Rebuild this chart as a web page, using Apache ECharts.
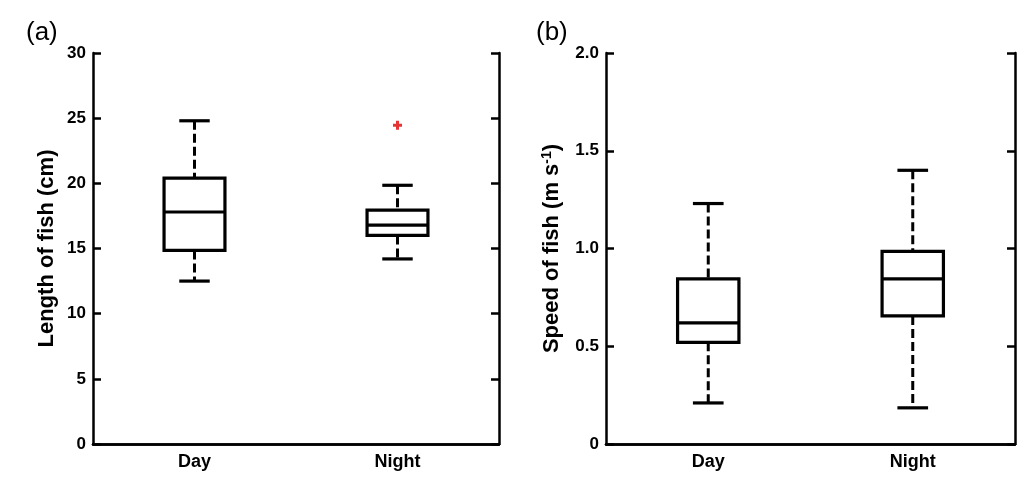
<!DOCTYPE html>
<html>
<head>
<meta charset="utf-8">
<script src="https://cdn.jsdelivr.net/npm/echarts@6/dist/echarts.min.js"></script>
<style>
html,body{margin:0;padding:0;background:#fff;}
#chart{width:1031px;height:478px;}
</style>
</head>
<body>
<div id="chart"></div>
<script>
// ---- data ----
var categories = ['Day', 'Night'];
// [min whisker, Q1, median, Q3, max whisker]
var lengthDay = [12.5, 14.85, 17.8, 20.4, 24.8];
var lengthNight = [14.2, 16.0, 16.8, 17.95, 19.85];
var lengthOutliers = [['Night', 24.45]];
var speedDay = [0.21, 0.52, 0.62, 0.845, 1.23];
var speedNight = [0.185, 0.655, 0.845, 0.985, 1.40];
var lengthTicks = [0, 5, 10, 15, 20, 25, 30];
var speedTicks = [0, 0.5, 1.0, 1.5, 2.0];
var panelLabels = ['(a)', '(b)'];

var FONT = '"Liberation Sans", Arial, sans-serif';
var AXW = 2.5;

function boxRender(params, api) {
  var x = api.value(0);
  var lo = api.coord([x, api.value(1)]);
  var q1 = api.coord([x, api.value(2)]);
  var md = api.coord([x, api.value(3)]);
  var q3 = api.coord([x, api.value(4)]);
  var hi = api.coord([x, api.value(5)]);
  var band = api.size([1, 0])[0];
  var bw = band * 0.3, cw = band * 0.15;
  var cx = q1[0];
  var solid = {stroke: '#000', lineWidth: 3.2, fill: null};
  var dashed = {stroke: '#000', lineWidth: 3, lineDash: [9, 4], fill: null};
  return {
    type: 'group',
    children: [
      {type: 'line', shape: {x1: cx, y1: hi[1], x2: cx, y2: q3[1]}, style: dashed},
      {type: 'line', shape: {x1: cx, y1: q1[1], x2: cx, y2: lo[1]}, style: dashed},
      {type: 'line', shape: {x1: cx - cw / 2, y1: hi[1], x2: cx + cw / 2, y2: hi[1]}, style: solid},
      {type: 'line', shape: {x1: cx - cw / 2, y1: lo[1], x2: cx + cw / 2, y2: lo[1]}, style: solid},
      {type: 'rect', shape: {x: cx - bw / 2, y: q3[1], width: bw, height: q1[1] - q3[1]}, style: {stroke: '#000', lineWidth: 3.2, fill: '#fff'}},
      {type: 'line', shape: {x1: cx - bw / 2, y1: md[1], x2: cx + bw / 2, y2: md[1]}, style: solid}
    ]
  };
}

function toRows(list) {
  return list.map(function (s, i) { return [i].concat(s); });
}

function xAxes(gi) {
  var base = {
    type: 'category', data: categories, gridIndex: gi,
    axisLine: {lineStyle: {color: '#000', width: AXW}},
    axisTick: {inside: true, alignWithLabel: true, length: 8, lineStyle: {color: '#000', width: AXW}},
    splitLine: {show: false}
  };
  var bottom = Object.assign({}, base, {
    position: 'bottom',
    axisLabel: {color: '#000', fontFamily: FONT, fontWeight: 'bold', fontSize: 18, margin: 9}
  });
  var top = Object.assign({}, base, {position: 'top', axisLabel: {show: false}});
  return [bottom, top];
}

function yAxes(gi, max, interval, name, nameGap, fmt) {
  var base = {
    type: 'value', gridIndex: gi, min: 0, max: max, interval: interval,
    axisLine: {show: true, lineStyle: {color: '#000', width: AXW}},
    axisTick: {show: true, inside: true, length: 8, lineStyle: {color: '#000', width: AXW}},
    splitLine: {show: false}
  };
  var left = Object.assign({}, base, {
    position: 'left',
    name: name, nameLocation: 'middle', nameGap: nameGap, nameRotate: 90,
    nameTextStyle: {
      color: '#000', fontFamily: FONT, fontWeight: 'bold', fontSize: 22,
      rich: {
        sup: {fontFamily: FONT, fontWeight: 'bold', fontSize: 14, verticalAlign: 'top', color: '#000', padding: [0, 0, 9, 0]},
        n: {fontFamily: FONT, fontWeight: 'bold', fontSize: 22, color: '#000'}
      }
    },
    axisLabel: {color: '#000', fontFamily: FONT, fontWeight: 'bold', fontSize: 17, margin: 7, formatter: fmt}
  });
  var right = Object.assign({}, base, {position: 'right', axisLabel: {show: false}});
  return [left, right];
}

var xa = xAxes(0).concat(xAxes(1));
var ya = yAxes(0, lengthTicks[lengthTicks.length - 1], lengthTicks[1] - lengthTicks[0], 'Length of fish (cm)', 35,
  function (v) { return String(v); })
  .concat(yAxes(1, speedTicks[speedTicks.length - 1], speedTicks[1] - speedTicks[0], '{n|Speed of fish (m s}{sup|-1}{n|)}', 43,
  function (v) { return v === 0 ? '0' : v.toFixed(1); }));

var chart = echarts.init(document.getElementById('chart'), null, {renderer: 'canvas'});
chart.setOption({
  animation: false,
  backgroundColor: '#fff',
  title: [
    {text: panelLabels[0], left: 21, top: 15, textStyle: {fontFamily: FONT, fontWeight: 'normal', fontSize: 26, color: '#000'}},
    {text: panelLabels[1], left: 531, top: 15, textStyle: {fontFamily: FONT, fontWeight: 'normal', fontSize: 26, color: '#000'}}
  ],
  grid: [
    {left: 93, top: 53, width: 406, height: 391},
    {left: 606, top: 53, width: 409, height: 391}
  ],
  xAxis: xa,
  yAxis: ya,
  series: [
    {type: 'custom', xAxisIndex: 0, yAxisIndex: 0, renderItem: boxRender, data: toRows([lengthDay, lengthNight]),
      encode: {x: 0, y: [1, 2, 3, 4, 5]}},
    {type: 'scatter', xAxisIndex: 0, yAxisIndex: 0, data: lengthOutliers,
      symbol: 'path://M-1,-3H1V-1H3V1H1V3H-1V1H-3V-1H-1Z', symbolSize: 9,
      itemStyle: {color: '#e00000'}},
    {type: 'custom', xAxisIndex: 2, yAxisIndex: 2, renderItem: boxRender, data: toRows([speedDay, speedNight]),
      encode: {x: 0, y: [1, 2, 3, 4, 5]}}
  ]
});
</script>
</body>
</html>
